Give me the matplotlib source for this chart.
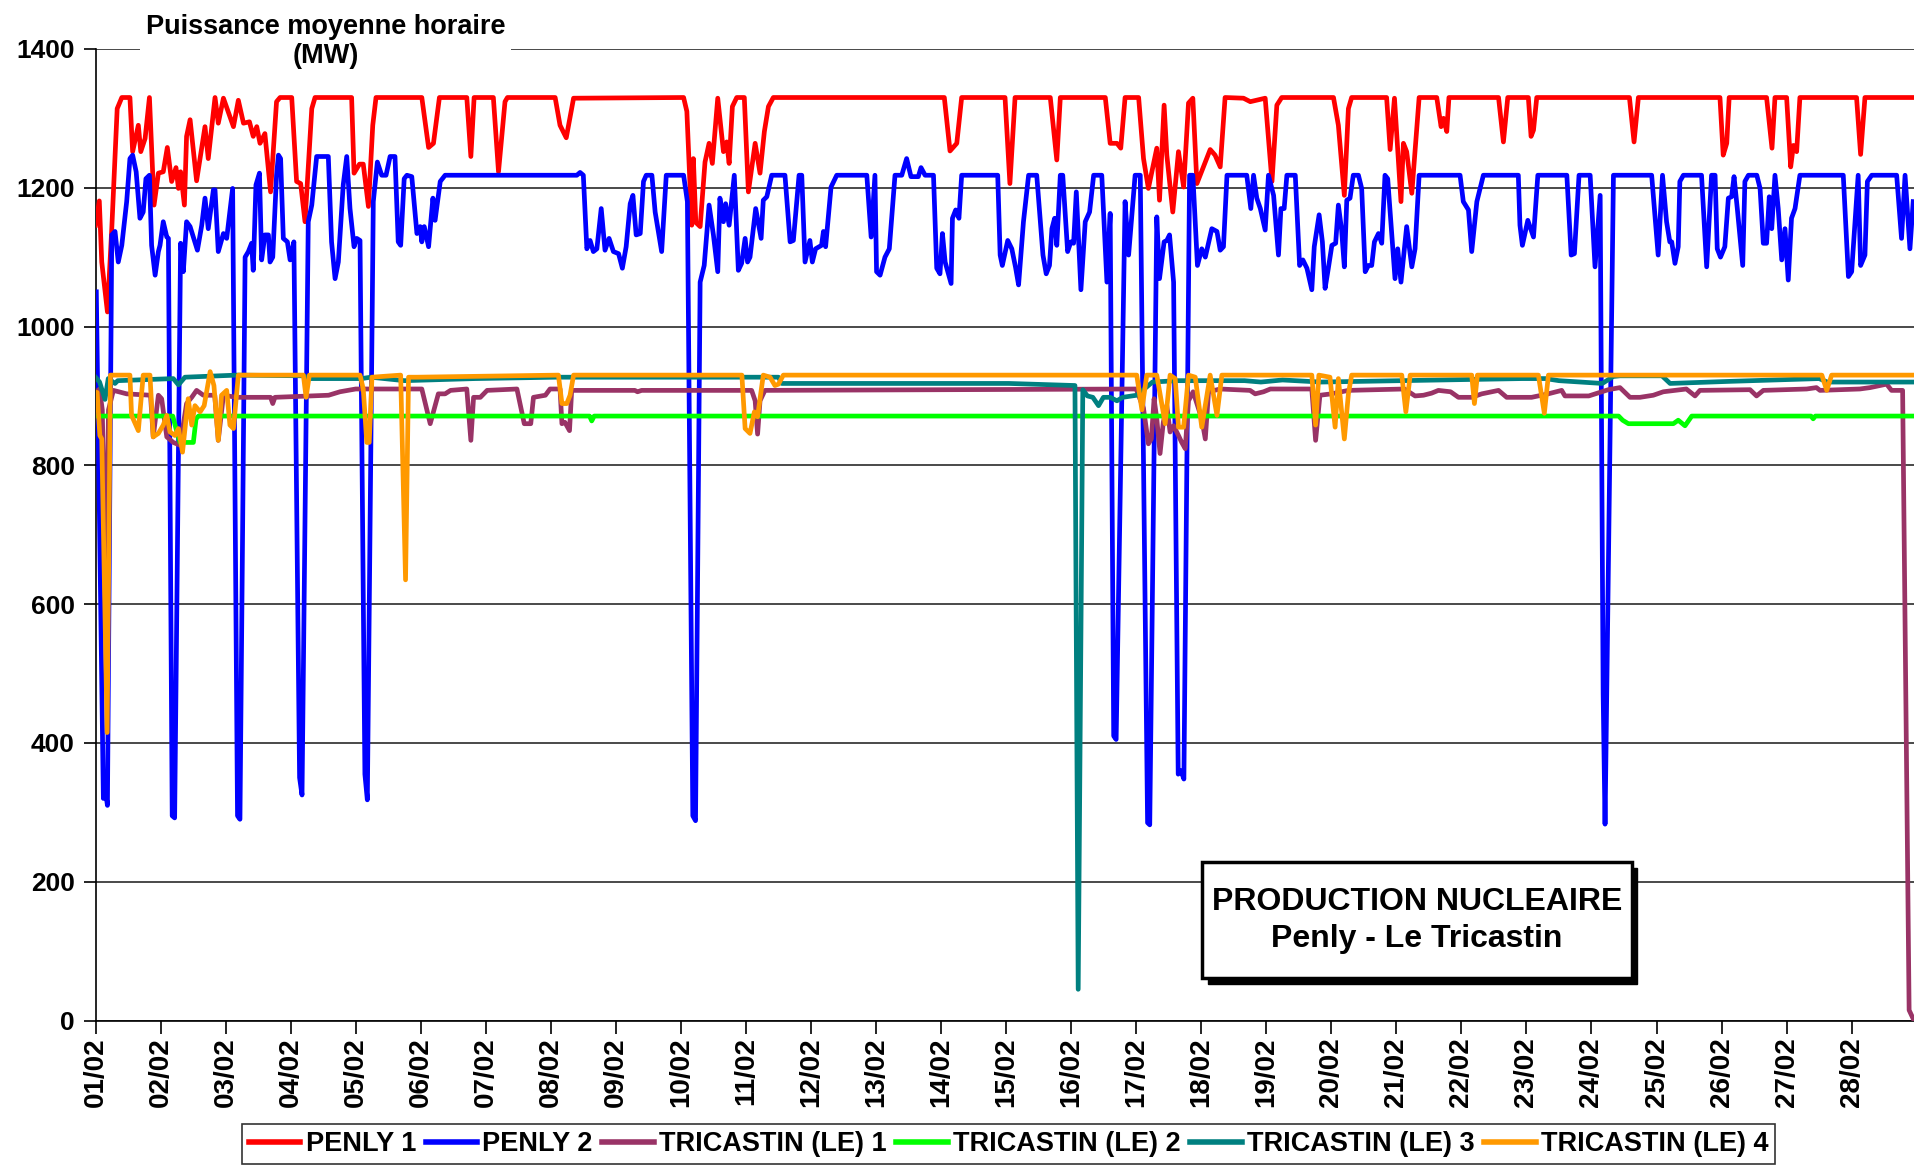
import matplotlib
matplotlib.use("Agg")
import matplotlib.pyplot as plt
from matplotlib.patches import Rectangle

plt.rcParams["font.family"] = ["Liberation Sans", "DejaVu Sans"]
plt.rcParams["font.weight"] = "bold"

# x values are hours since 01/02 00:00, y values are MW
DAY_LABELS = ["%02d/02" % d for d in range(1, 29)]

PENLY1_H = [0, 1.4, 2.3, 4.4, 6, 8, 9.7, 12.7, 13.7, 15.8, 16.7, 18.3, 19.9, 21.6, 23.2, 25, 26.5, 28.1,
            29.7, 30.6, 31.4, 32.8, 33.6, 34.9, 37.3, 40.4, 41.6, 44.1, 45.3, 47.2, 50.9, 52.7, 54.6, 56.8,
            58.2, 59.5, 60.7, 62.5, 64.6, 66.8, 68.1, 72.4, 74.2, 75.7, 77.3, 79.8, 81, 94.5, 95.4, 97.4,
            98.8, 100.7, 102.3, 103.5, 120.4, 122.9, 124.7, 126.9, 137, 138.5, 139.7, 146.8, 148.7, 151.1,
            152, 169.6, 171.4, 173.7, 176.4, 217, 218.2, 220, 220.6, 221.5, 223.1, 224.9, 226.4, 227.6,
            229.6, 231.7, 232.9, 233.8, 235, 236.6, 239.4, 240.9, 243.4, 245.2, 246.8, 248.3, 250.1, 313.2,
            315.3, 317.8, 319.6, 335.6, 337.4, 339.3, 352.3, 354.7, 356, 372.6, 374.4, 376.9, 378.3, 379.9,
            384.9, 386.7, 388.5, 391.6, 392.6, 394.3, 395.3, 397.5, 399.6, 401.5, 403.3, 404.9, 406.4,
            408.8, 411.3, 413.1, 415, 416.8, 423.6, 426.1, 431.6, 434.1, 435.9, 437.7, 456.8, 458.6, 460.8,
            462.3, 463.5, 476.4, 477.7, 479.3, 481.7, 482.6, 483.8, 485.7, 488.4, 494.9, 496.5, 497.4,
            498.6, 499.4, 517.7, 519.5, 521.1, 528.7, 529.7, 530.6, 531.8, 566, 567.7, 569.3, 599.4, 600.6,
            601.9, 602.8, 616.6, 618.6, 619.7, 624, 625.5, 626.5, 627.7, 628.9, 649.8, 651.3, 652.9, 671]
PENLY1_MW = [1146, 1181, 1093, 1021, 1141, 1314, 1330, 1330, 1252, 1290, 1252, 1271, 1330, 1175, 1221, 1223,
             1258, 1209, 1229, 1199, 1223, 1175, 1274, 1298, 1210, 1288, 1242, 1330, 1293, 1329, 1288, 1326,
             1293, 1295, 1274, 1288, 1264, 1278, 1194, 1324, 1330, 1330, 1209, 1206, 1151, 1314, 1330, 1330,
             1221, 1234, 1234, 1173, 1290, 1330, 1330, 1258, 1264, 1330, 1330, 1245, 1330, 1330, 1223, 1324,
             1330, 1330, 1290, 1272, 1329, 1330, 1310, 1146, 1242, 1150, 1144, 1237, 1264, 1235, 1329, 1252,
             1266, 1235, 1317, 1330, 1330, 1194, 1264, 1221, 1281, 1317, 1330, 1330, 1253, 1264, 1330, 1330,
             1206, 1330, 1330, 1240, 1330, 1330, 1264, 1264, 1257, 1330, 1330, 1242, 1199, 1257, 1182, 1319,
             1247, 1165, 1252, 1201, 1322, 1329, 1206, 1230, 1255, 1247, 1230, 1330, 1329, 1324, 1329, 1209,
             1319, 1330, 1330, 1290, 1189, 1314, 1330, 1330, 1255, 1329, 1180, 1264, 1252, 1192, 1330, 1330,
             1288, 1300, 1281, 1330, 1330, 1266, 1330, 1330, 1274, 1283, 1330, 1330, 1266, 1330, 1330, 1247,
             1264, 1330, 1330, 1257, 1330, 1330, 1230, 1261, 1252, 1330, 1330, 1248, 1330, 1330]

PENLY2_H = [0.3, 2.9, 3.5, 4.4, 6, 7.2, 8.4, 9.7, 11.5, 12.7, 13.7, 15, 16.4, 17.6, 18.6, 19.9, 20.7, 22,
            23.2, 23.8, 25, 26.3, 26.9, 28.3, 29.2, 31.4, 32.4, 33.6, 34.9, 37.6, 39.2, 40.4, 41.6, 43.5,
            44.1, 45.3, 47.2, 48.4, 50.6, 52.4, 53.3, 55.2, 56.4, 57.6, 58.2, 59.2, 60.5, 61.3, 62.5, 63.8,
            64.4, 65.4, 66.8, 67.5, 68.3, 69.3, 70.8, 71.8, 73.2, 75.3, 76.2, 78.5, 79.8, 81.6, 85.9, 87.1,
            88.4, 89.6, 91.4, 92.7, 93.9, 95.4, 96.4, 97.6, 99.4, 100.3, 102.5, 104, 105.6, 107.2, 108.7,
            110.5, 111.7, 112.6, 113.9, 114.9, 116.7, 118.6, 119.8, 120.4, 121.3, 122.9, 124.5, 125.3,
            127.2, 129, 177.6, 178.8, 180, 181.3, 182.5, 183.7, 185, 186.6, 188, 189.5, 191.1, 193, 194.4,
            195.8, 197.3, 198.3, 199.5, 201, 202.2, 203.2, 205.3, 206.5, 208.9, 210.6, 217, 218.4, 220.4,
            221.4, 223.1, 224.6, 226.4, 228, 229.6, 230.4, 231.7, 232.5, 233.8, 235.7, 237.2, 238.4, 239.7,
            240.6, 241.5, 243.6, 245.6, 246.4, 247.7, 249.5, 254.4, 256.3, 257.5, 259.6, 260.6, 261.8,
            263.6, 264.5, 265.7, 267.9, 268.6, 269.4, 271.4, 273.5, 284.6, 286.2, 287.6, 288.2, 289.5,
            291.3, 292.9, 295, 297.5, 299.3, 300.9, 303.6, 304.6, 306.1, 309.2, 310.4, 311.6, 312.5, 313.5,
            315.7, 316.2, 317.4, 318.6, 319.6, 332.9, 333.8, 334.6, 336.6, 338.1, 339.5, 340.6, 342.4, 344.3,
            347.3, 349.6, 350.8, 352, 352.9, 353.9, 354.7, 356, 356.9, 358.7, 359.9, 360.9, 361.9, 363.6,
            365.2, 366.8, 368.3, 371.3, 373.2, 374.4, 375.7, 376.6, 379.9, 381.2, 382.4, 383.6, 385.5,
            388.2, 389, 391.6, 392.6, 394.3, 395.3, 396.3, 397.8, 399.5, 400.5, 401.6, 403.7, 404.9, 406.6,
            408.2, 409.5, 411.9, 413.8, 415, 416.2, 417.5, 424.8, 426.3, 427.3, 428.5, 429.8, 431.6, 432.8,
            434.7, 436.5, 437.4, 438.6, 439.6, 442.7, 444.3, 445.5, 447, 448.8, 449.7, 451.5, 452.7, 453.7,
            454.9, 456.2, 457.6, 458.6, 459.8, 460.8, 461.7, 462.9, 464.1, 466, 467.2, 468.5, 469.7, 470.9,
            471.9, 473.4, 474.6, 475.8, 476.8, 479.5, 480.5, 481.7, 483.8, 485.7, 486.9, 488.4, 503.5,
            504.7, 506.6, 507.8, 509.7, 512.1, 525, 525.6, 526.5, 528.5, 530.6, 532.2, 542.9, 544.5, 545.7,
            547.4, 551.5, 553.3, 555.2, 556.3, 557, 560.1, 574.2, 576.6, 578.2, 579.7, 580.9, 581.6, 582.8,
            584, 584.6, 585.9, 592.6, 594.5, 596.3, 597.6, 598.4, 599.6, 601.2, 602.5, 603.7, 604.6, 605.8,
            607.8, 608.6, 609.9, 613, 614.2, 615.4, 616.6, 617.6, 618.5, 619.7, 620.9, 622.2, 623.4, 624.6,
            625.8, 627.1, 628.9, 644.9, 646.8, 648, 650.4, 651.3, 652.9, 653.8, 655.4, 664.6, 666.4, 667.7,
            669.5, 670.7]
PENLY2_MW = [1050, 320, 335, 310, 1132, 1137, 1093, 1117, 1180, 1242, 1247, 1223, 1156, 1165, 1213, 1218,
             1117, 1074, 1108, 1117, 1151, 1129, 1127, 295, 292, 1120, 1079, 1151, 1144, 1110, 1146, 1185,
             1141, 1197, 1197, 1108, 1134, 1127, 1199, 295, 290, 1100, 1108, 1120, 1081, 1204, 1221, 1096,
             1132, 1132, 1093, 1100, 1218, 1247, 1242, 1127, 1122, 1096, 1122, 350, 325, 1151, 1175, 1245,
             1245, 1122, 1069, 1093, 1204, 1245, 1170, 1115, 1127, 1124, 355, 318, 1180, 1237, 1218, 1218,
             1245, 1245, 1122, 1117, 1213, 1218, 1216, 1134, 1144, 1122, 1144, 1115, 1185, 1153, 1209, 1218,
             1218, 1222, 1218, 1112, 1124, 1108, 1112, 1170, 1110, 1127, 1108, 1105, 1084, 1115, 1177, 1189,
             1132, 1134, 1209, 1218, 1218, 1165, 1108, 1218, 1218, 1180, 295, 288, 1064, 1088, 1175, 1132,
             1079, 1185, 1151, 1177, 1146, 1218, 1081, 1091, 1127, 1093, 1100, 1170, 1127, 1182, 1187, 1218,
             1218, 1122, 1124, 1218, 1218, 1093, 1124, 1093, 1112, 1117, 1137, 1115, 1201, 1218, 1218, 1129,
             1218, 1079, 1074, 1100, 1112, 1218, 1218, 1242, 1216, 1216, 1229, 1218, 1218, 1084, 1076, 1134,
             1093, 1062, 1156, 1168, 1156, 1218, 1218, 1103, 1088, 1124, 1112, 1085, 1060, 1151, 1218, 1218,
             1103, 1076, 1088, 1141, 1156, 1117, 1218, 1218, 1108, 1122, 1120, 1194, 1053, 1151, 1165, 1218,
             1218, 1064, 1163, 410, 405, 1180, 1103, 1161, 1218, 1218, 285, 282, 1158, 1069, 1122, 1124, 1132,
             1064, 355, 360, 348, 1218, 1218, 1088, 1112, 1100, 1141, 1137, 1110, 1115, 1218, 1218, 1170,
             1218, 1185, 1170, 1139, 1218, 1189, 1103, 1170, 1170, 1218, 1218, 1088, 1096, 1084, 1053, 1115,
             1161, 1122, 1055, 1084, 1117, 1120, 1175, 1139, 1086, 1182, 1185, 1218, 1218, 1199, 1079, 1088,
             1088, 1122, 1134, 1120, 1218, 1213, 1069, 1112, 1064, 1144, 1086, 1112, 1218, 1218, 1180, 1168,
             1108, 1180, 1218, 1218, 1146, 1117, 1153, 1129, 1218, 1218, 1103, 1105, 1218, 1218, 1086, 1189,
             470, 283, 1218, 1218, 1103, 1218, 1151, 1122, 1122, 1091, 1115, 1209, 1218, 1218, 1086, 1218,
             1218, 1112, 1100, 1115, 1185, 1187, 1216, 1170, 1088, 1209, 1218, 1218, 1199, 1120, 1120, 1187,
             1141, 1218, 1170, 1096, 1141, 1067, 1156, 1170, 1218, 1218, 1072, 1079, 1218, 1088, 1103, 1209,
             1218, 1218, 1127, 1218, 1112, 1180]

TRIC1_H = [0, 1.5, 2.5, 3.8, 4.8, 6.6, 11.5, 20.3, 21.3, 23.2, 24.4, 26.3, 28.7, 31.2, 33.6, 35.5, 37.3,
           39.8, 44, 45.3, 47.2, 52.1, 64.6, 65.4, 66.2, 86, 90.2, 96, 120.4, 123.5, 126.5, 129, 131, 137,
           138.5, 139.5, 142, 144.5, 155.5, 158.2, 160.6, 161.6, 166, 167.7, 171.4, 172.1, 173.2, 174.9,
           175.7, 199, 200, 201.5, 242.1, 243.4, 244.3, 245.2, 247, 384, 386.7, 388.5, 389.6, 390.6, 391.6,
           392.8, 394, 395.3, 396.5, 397.8, 399.6, 400.8, 402.1, 403.3, 405, 408.2, 409.5, 410.7, 415, 426,
           427.9, 431, 433.5, 448.8, 450.2, 451.8, 456, 462.3, 483, 486.9, 490, 493, 495.5, 500, 502.9,
           507.8, 511.5, 517.7, 520.7, 529.9, 536, 541, 542.2, 551, 555.8, 558.2, 562.5, 566.2, 569.9, 574.8,
           578.5, 587, 590.2, 592, 610.5, 612.9, 615.4, 631.4, 635, 636.3, 651, 654.8, 660.9, 662.7, 666.8,
           669.2, 671]
TRIC1_MW = [905, 910, 880, 620, 880, 908, 903, 901, 841, 901, 896, 841, 833, 829, 889, 898, 908, 901, 901,
            836, 901, 898, 898, 889, 898, 901, 906, 910, 910, 860, 903, 903, 908, 910, 836, 898, 898, 908, 910,
            860, 860, 898, 901, 910, 910, 860, 862, 850, 908, 908, 906, 908, 908, 893, 845, 893, 908, 910, 882,
            831, 838, 896, 867, 817, 862, 886, 848, 857, 843, 833, 824, 893, 906, 867, 838, 906, 910, 908, 903,
            906, 910, 910, 836, 901, 903, 908, 910, 900, 901, 904, 908, 906, 898, 898, 903, 908, 898, 898, 903,
            908, 900, 900, 906, 909, 912, 898, 898, 901, 906, 910, 900, 908, 909, 900, 908, 910, 912, 908, 910,
            912, 917, 908, 908, 15, 0]

TRIC2_H = [0, 28.5, 29.7, 31.2, 36.1, 37.1, 38, 182.3, 183.1, 184, 562, 563.5, 565.6, 582.2, 584, 586.5,
           589, 633, 633.8, 634.6, 671]
TRIC2_MW = [871, 871, 853, 833, 833, 867, 871, 871, 864, 871, 871, 865, 860, 860, 865, 857, 871, 871, 867,
            871, 871]

TRIC3_H = [0, 1.5, 3.5, 4.7, 7.2, 8.2, 28.7, 30.6, 33, 52, 76.7, 79.2, 98.2, 101.5, 114, 140, 170, 224.9,
           252, 253.2, 337, 361.4, 362.6, 364.3, 366, 368, 370.1, 371.9, 374.4, 376.9, 379, 384.2, 387.9,
           390, 399, 424, 430, 438, 452, 526.3, 535, 540, 556, 560, 562.5, 578, 581, 603, 636, 639, 671]
TRIC3_MW = [927, 920, 895, 925, 918, 922, 925, 916, 927, 930, 929, 925, 925, 927, 922, 925, 927, 927, 927,
            918, 918, 915, 45, 909, 900, 898, 886, 898, 898, 893, 898, 901, 913, 920, 922, 922, 920, 923, 920,
            925, 925, 922, 918, 928, 929, 929, 918, 921, 925, 920, 920]

TRIC4_H = [0, 0.6, 1.6, 2.3, 4.3, 5.5, 12.7, 13.3, 15.8, 17.6, 20.1, 21.3, 23.2, 25, 26.3, 27.5, 29.3, 30.6,
           32.1, 34.2, 35.5, 36.7, 38.6, 40.1, 41, 42.3, 43.7, 45.3, 46.5, 48.4, 49.6, 50.9, 52.7, 76.7,
           77.7, 78.9, 97.6, 98.8, 100.1, 101, 102, 112.6, 114.4, 115.5, 118.6, 170.8, 172.1, 173.9, 175.1,
           176.4, 238.5, 239.7, 241.5, 243.1, 244.3, 246.4, 248.9, 250.7, 252, 253.8, 384.2, 386.1, 387.9,
           391.6, 394.7, 396.5, 398.4, 399.6, 401.5, 403.3, 405.8, 408.2, 411.3, 413.8, 415.6, 448.8, 450.2,
           451.4, 455.5, 457.4, 458.6, 460.8, 462.3, 463.5, 482, 483.5, 485.1, 507.8, 508.8, 509.9, 532.4,
           534.6, 536.1, 637, 638.8, 640.6, 671]
TRIC4_MW = [905, 905, 843, 838, 415, 930, 930, 872, 850, 930, 930, 841, 846, 858, 872, 848, 843, 853, 819,
            896, 858, 886, 877, 886, 906, 935, 915, 836, 901, 908, 858, 853, 930, 930, 898, 930, 930, 910, 833,
            833, 927, 930, 635, 927, 927, 930, 889, 889, 901, 930, 930, 853, 846, 877, 870, 930, 927, 915, 917,
            930, 930, 880, 930, 930, 860, 930, 925, 855, 855, 930, 927, 855, 930, 872, 930, 930, 858, 930, 927,
            855, 925, 838, 903, 930, 930, 877, 930, 930, 889, 930, 930, 875, 930, 930, 908, 930, 930]

SERIES = [
    ("PENLY 1", PENLY1_H, PENLY1_MW, "#ff0000"),
    ("PENLY 2", PENLY2_H, PENLY2_MW, "#0000ff"),
    ("TRICASTIN (LE) 1", TRIC1_H, TRIC1_MW, "#993366"),
    ("TRICASTIN (LE) 2", TRIC2_H, TRIC2_MW, "#00ff00"),
    ("TRICASTIN (LE) 3", TRIC3_H, TRIC3_MW, "#008080"),
    ("TRICASTIN (LE) 4", TRIC4_H, TRIC4_MW, "#ff9900"),
]

fig = plt.figure(figsize=(19.14, 11.65), dpi=100)
ax = fig.add_axes([0.0499, 0.124, 0.9501, 0.834])

for i, (name, hours, mw, color) in enumerate(SERIES):
    ax.plot(hours, mw, color=color, lw=3.4, label=name, zorder=3 + i)

ax.set_xlim(0, 671)
ax.set_ylim(0, 1400)
ax.set_yticks(range(0, 1401, 200))
ax.set_xticks([24 * i for i in range(len(DAY_LABELS))])
ax.set_xticklabels(DAY_LABELS, rotation=90)

ax.yaxis.grid(True, color="#3a3a3a", lw=1.3)
ax.set_axisbelow(True)
for side in ("top", "right"):
    ax.spines[side].set_visible(False)
for side in ("left", "bottom"):
    ax.spines[side].set_color("black")
    ax.spines[side].set_linewidth(1.2)
ax.tick_params(axis="y", labelsize=19, length=9, width=1.2, pad=6)
ax.tick_params(axis="x", labelsize=20, length=9, width=1.2, pad=3)
for lab in ax.get_xticklabels() + ax.get_yticklabels():
    lab.set_fontweight("bold")

# title sitting on the top gridline
fig.text(0.170, 0.964, "Puissance moyenne horaire\n(MW)", ha="center", va="center",
         fontsize=19.5, fontweight="bold", linespacing=1.15,
         bbox=dict(facecolor="white", edgecolor="none", pad=4))

# framed label with drop shadow
bx, by, bw, bh = 0.6085, 0.0437, 0.2364, 0.1194
ax.add_patch(Rectangle((bx + 0.003, by - 0.006), bw, bh, transform=ax.transAxes,
                       facecolor="black", edgecolor="black", zorder=20))
ax.add_patch(Rectangle((bx, by), bw, bh, transform=ax.transAxes,
                       facecolor="white", edgecolor="black", lw=2.5, zorder=21))
ax.text(bx + bw / 2, by + bh / 2, "PRODUCTION NUCLEAIRE\nPenly - Le Tricastin",
        transform=ax.transAxes, ha="center", va="center", fontsize=23, fontweight="bold",
        linespacing=1.3, zorder=22)

leg = fig.legend(loc="center", bbox_to_anchor=(0.527, 0.018), ncol=6, frameon=True,
                 fancybox=False, handlelength=1.9, handletextpad=0.2, columnspacing=0.35,
                 borderpad=0.25, borderaxespad=0,
                 prop={"family": ["Liberation Sans Narrow", "DejaVu Sans Condensed", "Liberation Sans"],
                       "weight": "bold", "size": 19.5})
leg.get_frame().set_edgecolor("black")
leg.get_frame().set_linewidth(1.2)
for line in leg.get_lines():
    line.set_linewidth(4)

fig.savefig("out.png", dpi=100)
